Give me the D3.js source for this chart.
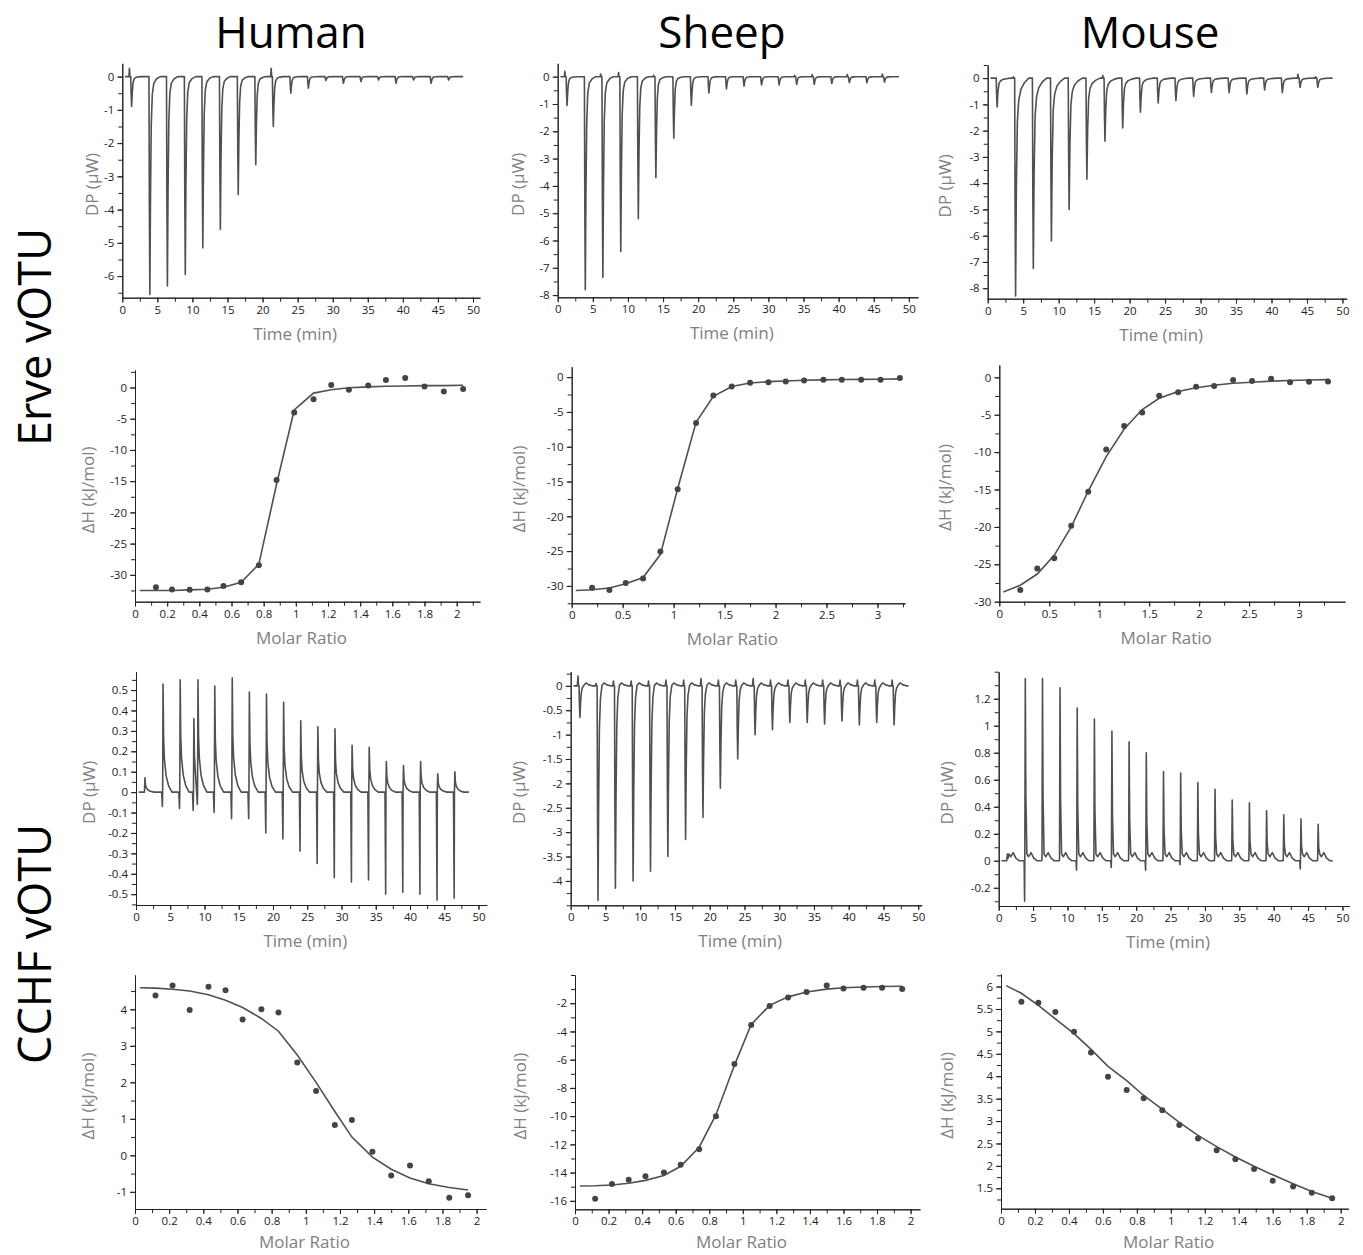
<!DOCTYPE html>
<html>
<head>
<meta charset="utf-8">
<script src="https://cdn.jsdelivr.net/npm/d3@7"></script>
<style>
  body { margin: 0; background: #fff; }
  text { font-family: "Open Sans", "Noto Sans", sans-serif; }
</style>
</head>
<body>
<svg id="fig" width="1363" height="1255"></svg>
<script>
/* ---------------------------------------------------------------- data -- */
const colTitles = ['Human', 'Sheep', 'Mouse'];
const rowTitles = ['Erve vOTU', 'CCHF vOTU'];

// injection times (min)
const injTimes = [1.2, 3.8, 6.3, 8.85, 11.35, 13.85, 16.4, 18.9, 21.4, 23.9, 26.4, 28.9, 31.4, 33.9, 36.4, 38.9, 41.4, 43.9, 46.4];
const injTimesHumCchf = [1.2, 3.85, 6.35, 8.35, 8.95, 11.4, 13.95, 16.45, 18.95, 21.45, 23.95, 26.45, 28.95, 31.45, 33.95, 36.45, 38.95, 41.45, 43.95, 46.45];

// thermogram peak heights (µW) and the small spikes next to them
const humErvePeaks = [-0.9, -6.55, -6.3, -5.95, -5.15, -4.6, -3.55, -2.65, -1.5, -0.5, -0.35, -0.12, -0.2, -0.15, -0.1, -0.2, -0.1, -0.2, -0.1];
const humErveSpikes = [0.25, 0, 0, 0, 0, 0, 0, 0, 0.25, 0, 0, 0, 0, 0, 0, 0, 0, 0, 0];
const sheErvePeaks = [-1.05, -7.8, -7.35, -6.4, -5.2, -3.7, -2.25, -1.05, -0.6, -0.45, -0.35, -0.3, -0.3, -0.28, -0.28, -0.25, -0.22, -0.22, -0.2];
const sheErveSpikes = [0.2, 0, 0.1, 0.15, 0, 0.05, 0, 0, 0, 0, 0, 0, 0, 0.05, 0.08, 0, 0.08, 0, 0.1];
const mouErvePeaks = [-1.1, -8.3, -7.25, -6.2, -5.0, -3.85, -2.4, -1.9, -1.3, -0.95, -0.85, -0.7, -0.55, -0.55, -0.6, -0.45, -0.55, -0.35, -0.35];
const mouErveSpikes = [0, 0.05, 0, 0, 0, 0, 0.1, 0, 0, 0, 0, 0, 0, 0, 0, 0, 0, 0.15, 0.05];

const humCchfPeaks = [0.07, 0.53, 0.55, 0.36, 0.55, 0.52, 0.56, 0.49, 0.48, 0.44, 0.35, 0.32, 0.31, 0.23, 0.22, 0.15, 0.13, 0.15, 0.09, 0.1];
const humCchfSpikes = [0, -0.07, -0.08, -0.09, -0.06, -0.1, -0.13, -0.13, -0.2, -0.23, -0.29, -0.35, -0.42, -0.44, -0.43, -0.5, -0.49, -0.5, -0.53, -0.52];
const sheCchfPeaks = [-0.65, -4.4, -4.15, -4.0, -3.8, -3.5, -3.15, -2.7, -2.1, -1.5, -1.0, -0.9, -0.75, -0.75, -0.78, -0.72, -0.8, -0.75, -0.8];
const sheCchfSpikes = [0.2, 0.05, 0.1, 0.1, 0.1, 0.12, 0.12, 0.15, 0.12, 0.12, 0.15, 0.12, 0.12, 0.12, 0.12, 0.12, 0.12, 0.12, 0.12];
const mouCchfPeaks = [0.05, 1.35, 1.35, 1.28, 1.13, 1.05, 0.96, 0.88, 0.8, 0.66, 0.65, 0.58, 0.53, 0.45, 0.43, 0.37, 0.34, 0.31, 0.27];
const mouCchfSpikes = [0, -0.3, 0, 0, -0.07, 0, -0.05, 0, -0.07, 0, -0.03, 0, 0, 0, 0, 0, 0, -0.06, 0];

// peak shapes: [dt, share of peak, share of spike, offset]
const shapeExo = [[-0.25,0,0,0],[-0.18,0,1,0],[-0.1,0,0,0],[0,0,0,0],[0.06,0.6,0,0],[0.13,1,0,0],[0.22,0.55,0,0],[0.33,0.22,0,0],[0.48,0.08,0,0],[0.7,0.03,0,0],[1.1,0.01,0,0],[1.6,0,0,0]];
const shapeExoSlow = [[-0.25,0,0,0],[-0.18,0,1,0],[-0.1,0,0,0],[0,0,0,0],[0.06,0.6,0,0],[0.13,1,0,0],[0.24,0.5,0,0],[0.38,0.2,0,0],[0.58,0.1,0,0],[0.9,0.05,0,0],[1.4,0.02,0,0],[2.0,0,0,0]];
const shapeExoBump = [[-0.25,0,0,0],[-0.15,0,1,0],[-0.08,0,0,0],[0,0,0,0],[0.06,0.6,0,0],[0.13,1,0,0],[0.22,0.55,0,0],[0.33,0.2,0,0],[0.48,0.06,0,0],[0.7,0,0,0.01],[1.0,0,0,0.06],[1.4,0,0,0.02],[1.9,0,0,0]];
const shapeEndo = [[-0.1,0,0,0],[0,0,1,0],[0.04,0,0,0],[0.1,1,0,0],[0.18,0.5,0,0],[0.3,0.3,0,0],[0.55,0.15,0,0],[0.9,0.06,0,0],[1.4,0,0,0]];
const shapeEndoMouse = [[-0.1,0,0,0],[-0.03,0,1,0],[0,0,0,0.02],[0.07,1,0,0],[0.15,0.35,0,0],[0.3,0,0,0.05],[0.55,0,0,0.03],[0.9,0,0,0.06],[1.3,0,0,0.02],[1.8,0,0,0]];

// integrated heats (kJ/mol) vs molar ratio, with fitted curves
const humErveX = [0.13, 0.23, 0.34, 0.45, 0.55, 0.66, 0.77, 0.88, 0.99, 1.11, 1.22, 1.33, 1.45, 1.56, 1.68, 1.80, 1.92, 2.04];
const humErveY = [-32.0, -32.35, -32.4, -32.35, -31.8, -31.2, -28.45, -14.8, -4.0, -1.9, 0.4, -0.35, 0.3, 1.2, 1.5, 0.15, -0.65, -0.25];
const humErveFitX = [0.03, 0.13, 0.23, 0.34, 0.45, 0.55, 0.66, 0.77, 0.88, 0.99, 1.11, 1.22, 1.33, 1.45, 1.56, 1.68, 1.80, 1.92, 2.04];
const humErveFitY = [-32.5, -32.5, -32.5, -32.4, -32.3, -32.0, -31.2, -28.3, -15.5, -3.6, -0.9, -0.35, -0.05, 0.1, 0.2, 0.25, 0.3, 0.3, 0.35];

const sheErveX = [0.2, 0.37, 0.53, 0.7, 0.87, 1.04, 1.22, 1.39, 1.57, 1.75, 1.93, 2.1, 2.28, 2.47, 2.65, 2.84, 3.03, 3.22];
const sheErveY = [-30.25, -30.6, -29.6, -28.95, -25.05, -16.1, -6.6, -2.65, -1.35, -0.8, -0.72, -0.62, -0.48, -0.38, -0.38, -0.38, -0.38, -0.14];
const sheErveFitX = [0.04, 0.2, 0.37, 0.53, 0.7, 0.87, 1.04, 1.22, 1.39, 1.57, 1.75, 1.93, 2.1, 2.28, 2.47, 2.65, 2.84, 3.03, 3.22];
const sheErveFitY = [-30.65, -30.55, -30.3, -29.7, -28.8, -25.5, -16.0, -6.5, -2.75, -1.35, -0.85, -0.65, -0.55, -0.45, -0.4, -0.35, -0.32, -0.3, -0.25];

const mouErveX = [0.21, 0.38, 0.55, 0.72, 0.89, 1.07, 1.25, 1.43, 1.6, 1.79, 1.97, 2.15, 2.34, 2.53, 2.72, 2.91, 3.1, 3.29];
const mouErveY = [-28.45, -25.55, -24.2, -19.85, -15.3, -9.65, -6.5, -4.7, -2.45, -2.0, -1.25, -1.15, -0.35, -0.5, -0.2, -0.65, -0.6, -0.55];
const mouErveFitX = [0.04, 0.21, 0.38, 0.55, 0.72, 0.89, 1.07, 1.25, 1.43, 1.6, 1.79, 1.97, 2.15, 2.34, 2.53, 2.72, 2.91, 3.1, 3.29];
const mouErveFitY = [-28.7, -27.8, -26.3, -23.8, -20.0, -15.2, -10.6, -6.9, -4.3, -2.8, -1.9, -1.4, -1.05, -0.8, -0.65, -0.5, -0.42, -0.35, -0.3];

const humCchfX = [0.12, 0.22, 0.32, 0.43, 0.53, 0.63, 0.74, 0.84, 0.95, 1.06, 1.17, 1.27, 1.39, 1.5, 1.61, 1.72, 1.84, 1.95];
const humCchfY = [4.38, 4.65, 3.98, 4.62, 4.52, 3.72, 4.0, 3.91, 2.54, 1.76, 0.83, 0.97, 0.1, -0.55, -0.28, -0.71, -1.16, -1.09];
const humCchfFitX = [0.03, 0.12, 0.22, 0.32, 0.43, 0.53, 0.63, 0.74, 0.84, 0.95, 1.06, 1.17, 1.27, 1.39, 1.5, 1.61, 1.72, 1.84, 1.95];
const humCchfFitY = [4.59, 4.58, 4.55, 4.5, 4.4, 4.25, 4.05, 3.75, 3.4, 2.75, 2.0, 1.2, 0.5, -0.05, -0.38, -0.62, -0.78, -0.88, -0.95];

const sheCchfX = [0.12, 0.22, 0.32, 0.42, 0.53, 0.63, 0.74, 0.84, 0.95, 1.05, 1.16, 1.27, 1.38, 1.5, 1.6, 1.72, 1.83, 1.95];
const sheCchfY = [-15.85, -14.8, -14.5, -14.25, -14.0, -13.45, -12.35, -10.0, -6.3, -3.55, -2.2, -1.6, -1.2, -0.75, -0.95, -0.9, -0.9, -1.0];
const sheCchfFitX = [0.03, 0.12, 0.22, 0.32, 0.42, 0.53, 0.63, 0.74, 0.84, 0.95, 1.05, 1.16, 1.27, 1.38, 1.5, 1.6, 1.72, 1.83, 1.95];
const sheCchfFitY = [-14.95, -14.93, -14.88, -14.75, -14.55, -14.2, -13.55, -12.2, -9.9, -6.4, -3.5, -2.15, -1.55, -1.2, -1.0, -0.9, -0.85, -0.82, -0.8];

const mouCchfX = [0.12, 0.22, 0.32, 0.43, 0.53, 0.63, 0.74, 0.84, 0.95, 1.05, 1.16, 1.27, 1.38, 1.49, 1.6, 1.72, 1.83, 1.95];
const mouCchfY = [5.66, 5.64, 5.43, 4.99, 4.53, 3.99, 3.69, 3.51, 3.24, 2.91, 2.61, 2.35, 2.15, 1.93, 1.67, 1.54, 1.40, 1.28];
const mouCchfFitX = [0.03, 0.12, 0.22, 0.32, 0.43, 0.53, 0.63, 0.74, 0.84, 0.95, 1.05, 1.16, 1.27, 1.38, 1.49, 1.6, 1.72, 1.83, 1.95];
const mouCchfFitY = [6.02, 5.85, 5.58, 5.28, 4.95, 4.6, 4.22, 3.9, 3.57, 3.26, 2.97, 2.68, 2.43, 2.2, 1.99, 1.8, 1.6, 1.43, 1.28];

/* -------------------------------------------------------------- layout -- */
const traceStart = 0.4, traceEnd = 48.6;
const DP = 'DP (\u03BCW)', DH = '\u0394H (kJ/mol)', TIME = 'Time (min)', MR = 'Molar Ratio';

const panels = [
  // row 1 : Erve thermograms
  {kind: 'trace', times: injTimes, peaks: humErvePeaks, spikes: humErveSpikes, shape: shapeExo,
   xDom: [0, 51], xPx: [122.3, 480], yDom: [-6.65, 0.4], yPx: [297.7, 63.3],
   xMajor: [0, 50, 5], xMinor: 2.5, yMajor: [-6, 0, 1], yMinor: 0.5, yOff: 30, xOff: 42, xTitle: TIME, yTitle: DP},
  {kind: 'trace', times: injTimes, peaks: sheErvePeaks, spikes: sheErveSpikes, shape: shapeExo,
   xDom: [0, 51.3], xPx: [557.7, 918], yDom: [-8.08, 0.49], yPx: [297.3, 63.3],
   xMajor: [0, 50, 5], xMinor: 2.5, yMajor: [-8, 0, 1], yMinor: 0.5, yOff: 40, xOff: 42, xTitle: TIME, yTitle: DP},
  {kind: 'trace', times: injTimes, peaks: mouErvePeaks, spikes: mouErveSpikes, shape: shapeExoSlow,
   xDom: [0, 50.6], xPx: [987.7, 1346.7], yDom: [-8.4, 0.5], yPx: [298.7, 65],
   xMajor: [0, 50, 5], xMinor: 2.5, yMajor: [-8, 0, 1], yMinor: 0.5, yOff: 43, xOff: 42, xTitle: TIME, yTitle: DP},
  // row 2 : Erve isotherms
  {kind: 'iso', px: humErveX, py: humErveY, fx: humErveFitX, fy: humErveFitY,
   xDom: [0, 2.145], xPx: [135, 480], yDom: [-34.3, 2.8], yPx: [601.7, 370],
   xMajor: [0, 2, 0.2], xMinor: 0.1, yMajor: [-30, 0, 5], yMinor: 2.5, yOff: 47, xOff: 42, xTitle: MR, yTitle: DH},
  {kind: 'iso', px: sheErveX, py: sheErveY, fx: sheErveFitX, fy: sheErveFitY,
   xDom: [0, 3.27], xPx: [571.7, 905], yDom: [-32.5, 1.5], yPx: [603.3, 366.7],
   xMajor: [0, 3, 0.5], xMinor: 0.25, yMajor: [-30, 0, 5], yMinor: 2.5, yOff: 53, xOff: 42, xTitle: MR, yTitle: DH},
  {kind: 'iso', px: mouErveX, py: mouErveY, fx: mouErveFitX, fy: mouErveFitY,
   xDom: [0, 3.46], xPx: [999.3, 1345], yDom: [-30, 1.65], yPx: [601.7, 365],
   xMajor: [0, 3, 0.5], xMinor: 0.25, yMajor: [-30, 0, 5], yMinor: 2.5, yOff: 54, xOff: 42, xTitle: MR, yTitle: DH},
  // row 3 : CCHF thermograms
  {kind: 'trace', times: injTimesHumCchf, peaks: humCchfPeaks, spikes: humCchfSpikes, shape: shapeEndo,
   xDom: [0, 51.2], xPx: [136, 486.7], yDom: [-0.553, 0.59], yPx: [905, 671.7],
   xMajor: [0, 50, 5], xMinor: 2.5, yMajor: [-0.5, 0.5, 0.1], yMinor: 0.05, yOff: 47, xOff: 42, xTitle: TIME, yTitle: DP},
  {kind: 'trace', times: injTimes, peaks: sheCchfPeaks, spikes: sheCchfSpikes, shape: shapeExoBump,
   xDom: [0, 50.5], xPx: [570.7, 921.7], yDom: [-4.5, 0.29], yPx: [905.3, 671.7],
   xMajor: [0, 50, 5], xMinor: 2.5, yMajor: [-4, 0, 0.5], yMinor: 0.25, yOff: 52, xOff: 42, xTitle: TIME, yTitle: DP},
  {kind: 'trace', times: injTimes, peaks: mouCchfPeaks, spikes: mouCchfSpikes, shape: shapeEndoMouse,
   xDom: [0, 51], xPx: [998.7, 1349.3], yDom: [-0.335, 1.4], yPx: [906, 671.7],
   xMajor: [0, 50, 5], xMinor: 2.5, yMajor: [-0.2, 1.2, 0.2], yMinor: 0.1, yOff: 52, xOff: 42, xTitle: TIME, yTitle: DP},
  // row 4 : CCHF isotherms
  {kind: 'iso', px: humCchfX, py: humCchfY, fx: humCchfFitX, fy: humCchfFitY,
   xDom: [0, 2.055], xPx: [135, 486], yDom: [-1.47, 4.94], yPx: [1209, 975],
   xMajor: [0, 2, 0.2], xMinor: 0.1, yMajor: [-1, 4, 1], yMinor: 0.5, yOff: 47, xOff: 39, xTitle: MR, yTitle: DH},
  {kind: 'iso', px: sheCchfX, py: sheCchfY, fx: sheCchfFitX, fy: sheCchfFitY,
   xDom: [0, 2.056], xPx: [575, 920], yDom: [-16.6, 0], yPx: [1209.3, 975],
   xMajor: [0, 2, 0.2], xMinor: 0.1, yMajor: [-16, -2, 2], yMinor: 1, yOff: 55, xOff: 39, xTitle: MR, yTitle: DH},
  {kind: 'iso', px: mouCchfX, py: mouCchfY, fx: mouCchfFitX, fy: mouCchfFitY,
   xDom: [0, 2.045], xPx: [1001, 1348.3], yDom: [1.045, 6.28], yPx: [1208.7, 974],
   xMajor: [0, 2, 0.2], xMinor: 0.1, yMajor: [1.5, 6, 0.5], yMinor: 0.25, yOff: 54, xOff: 39, xTitle: MR, yTitle: DH}
];

const colX = [291, 722, 1150];
const rowY = [337, 944];

/* ------------------------------------------------------------- helpers -- */
const svg = d3.select('#fig');
const INK = '#222', LINE = '#505050';

function steps(lo, hi, step) {
  let out = [];
  let n0 = Math.ceil(lo / step - 1e-6), n1 = Math.floor(hi / step + 1e-6);
  for (let n = n0; n <= n1; n++) out.push(+(n * step).toFixed(4));
  return out;
}
function fmt(v) { return String(+v.toFixed(3)); }

// one continuous trace from the injection list and a peak shape
function buildTrace(times, peaks, spikes, shape) {
  let pts = [[traceStart, 0]];
  times.forEach(function (t, i) {
    let next = (i < times.length - 1) ? times[i + 1] + shape[0][0] : traceEnd;
    shape.forEach(function (s) {
      let tt = t + s[0];
      if (tt <= pts[pts.length - 1][0] || tt >= next) return;
      pts.push([tt, s[1] * peaks[i] + s[2] * spikes[i] + s[3]]);
    });
  });
  pts.push([traceEnd, 0]);
  return pts;
}

function styleAxis(g) {
  g.selectAll('path, line').attr('stroke', INK).attr('stroke-width', 1);
  g.selectAll('text').attr('fill', INK).attr('font-size', 11.5)
   .attr('font-family', '"Open Sans", "Noto Sans", sans-serif');
  g.attr('font-family', null).attr('font-size', null);
}

/* -------------------------------------------------------------- panels -- */
function drawPanel(p) {
  let x = d3.scaleLinear().domain(p.xDom).range(p.xPx);
  let y = d3.scaleLinear().domain(p.yDom).range(p.yPx);
  let g = svg.append('g');

  // minor ticks
  g.append('g').attr('transform', `translate(0,${p.yPx[0]})`)
    .call(d3.axisBottom(x).tickValues(steps(p.xDom[0], p.xDom[1], p.xMinor)).tickSize(4).tickSizeOuter(0).tickFormat(''))
    .call(styleAxis);
  g.append('g').attr('transform', `translate(${p.xPx[0]},0)`)
    .call(d3.axisLeft(y).tickValues(steps(p.yDom[0], p.yDom[1], p.yMinor)).tickSize(4).tickSizeOuter(0).tickFormat(''))
    .call(styleAxis);

  // major ticks + labels
  g.append('g').attr('transform', `translate(0,${p.yPx[0]})`)
    .call(d3.axisBottom(x).tickValues(steps(p.xMajor[0], p.xMajor[1], p.xMajor[2])).tickSize(5).tickSizeOuter(0).tickFormat(fmt))
    .call(styleAxis);
  g.append('g').attr('transform', `translate(${p.xPx[0]},0)`)
    .call(d3.axisLeft(y).tickValues(steps(p.yMajor[0], p.yMajor[1], p.yMajor[2])).tickSize(5).tickSizeOuter(0).tickFormat(fmt))
    .call(styleAxis);

  // axis titles
  g.append('text')
    .attr('x', (p.xPx[0] + p.xPx[1]) / 2 - 6)
    .attr('y', p.yPx[0] + p.xOff)
    .attr('text-anchor', 'middle')
    .attr('font-size', 17).attr('fill', '#808080')
    .text(p.xTitle);
  let ym = (p.yPx[0] + p.yPx[1]) / 2 + 4;
  g.append('text')
    .attr('transform', `translate(${p.xPx[0] - p.yOff},${ym}) rotate(-90)`)
    .attr('text-anchor', 'middle')
    .attr('dy', '0.35em')
    .attr('font-size', 17).attr('fill', '#808080')
    .text(p.yTitle);

  let line = d3.line().x(d => x(d[0])).y(d => y(d[1]));

  if (p.kind == 'trace') {
    let pts = buildTrace(p.times, p.peaks, p.spikes, p.shape);
    g.append('path').datum(pts)
      .attr('d', line)
      .attr('fill', 'none').attr('stroke', LINE).attr('stroke-width', 1.6)
      .attr('stroke-linejoin', 'round');
  }
  else {
    let fit = p.fx.map((v, i) => [v, p.fy[i]]);
    g.append('path').datum(fit)
      .attr('d', line)
      .attr('fill', 'none').attr('stroke', LINE).attr('stroke-width', 1.6);
    g.selectAll('circle.pt').data(p.px.map((v, i) => [v, p.py[i]]))
      .enter().append('circle')
      .attr('class', 'pt')
      .attr('cx', d => x(d[0])).attr('cy', d => y(d[1]))
      .attr('r', 3).attr('fill', '#444');
  }
}

panels.forEach(drawPanel);

/* -------------------------------------------------------------- titles -- */
svg.selectAll('text.col').data(colTitles)
  .enter().append('text')
  .attr('class', 'col')
  .attr('x', (d, i) => colX[i]).attr('y', 48)
  .attr('text-anchor', 'middle')
  .attr('font-size', 44).attr('fill', '#000')
  .text(d => d);

svg.selectAll('text.row').data(rowTitles)
  .enter().append('text')
  .attr('class', 'row')
  .attr('transform', (d, i) => `translate(51,${rowY[i]}) rotate(-90)`)
  .attr('text-anchor', 'middle')
  .attr('font-size', 45).attr('fill', '#000')
  .text(d => d);
</script>
</body>
</html>
